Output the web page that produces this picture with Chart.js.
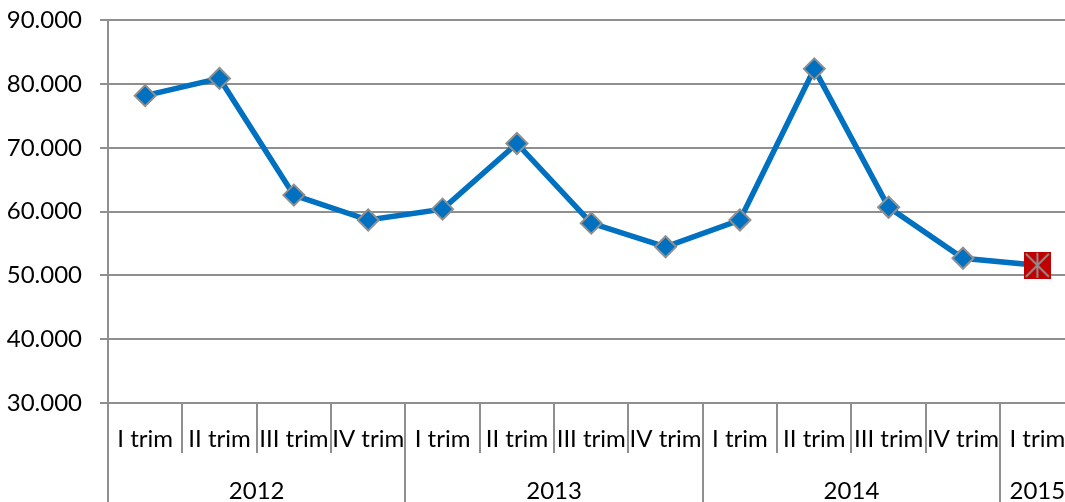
<!DOCTYPE html>
<html>
<head>
<meta charset="utf-8">
<script src="https://cdn.jsdelivr.net/npm/chart.js@4"></script>
<style>
  html, body { margin: 0; padding: 0; background: #fff; overflow: hidden; }
  #myChart { display: block; margin-top: -12px; }
</style>
</head>
<body>
<canvas id="myChart" width="1087" height="514"></canvas>
<script>
// dati
const quarters = ['I trim', 'II trim', 'III trim', 'IV trim',
                  'I trim', 'II trim', 'III trim', 'IV trim',
                  'I trim', 'II trim', 'III trim', 'IV trim',
                  'I trim'];
const years = ['2012', '2013', '2014', '2015'];
const yearSizes = [4, 4, 4, 1];
const values = [78200, 80900, 62600, 58700, 60400, 70700, 58200, 54500,
                58700, 82400, 60700, 52700, 51600];
const yTicks = [30000, 40000, 50000, 60000, 70000, 80000, 90000];

const blue = '#0070C0';
const grey = '#8f8f8f';
const font = { family: 'Lato', size: 24 };

// posizioni dei confini e dei centri degli anni (in indici di categoria)
const yearBounds = [-0.5];
const yearCenters = [];
let acc = -0.5;
yearSizes.forEach(n => {
  yearCenters.push(acc + n / 2);
  acc += n;
  yearBounds.push(acc);
});

// marcatore dell'ultimo punto: quadrato rosso con asterisco
const lastMark = document.createElement('canvas');
lastMark.width = 27; lastMark.height = 27;
(function () {
  const c = lastMark.getContext('2d');
  c.fillStyle = '#C00000';
  c.fillRect(0, 0, 27, 27);
  c.strokeStyle = grey;
  c.lineWidth = 2;
  c.beginPath();
  c.moveTo(13.5, 1); c.lineTo(13.5, 26);
  c.moveTo(2, 2); c.lineTo(25, 25);
  c.moveTo(25, 2); c.lineTo(2, 25);
  c.stroke();
})();

function fmt(v) {
  return String(v).replace(/\B(?=(\d{3})+(?!\d))/g, '.');
}

const last = values.length - 1;

new Chart(document.getElementById('myChart'), {
  type: 'line',
  data: {
    labels: quarters,
    datasets: [{
      data: values,
      borderColor: blue,
      borderWidth: 5.5,
      backgroundColor: blue,
      pointStyle: ctx => ctx.dataIndex === last ? lastMark : 'rectRot',
      pointRadius: 10.5,
      pointBorderColor: grey,
      pointBorderWidth: 2,
      tension: 0
    }]
  },
  options: {
    responsive: false,
    animation: false,
    layout: { padding: 0 },
    plugins: { legend: { display: false }, tooltip: { enabled: false } },
    scales: {
      y: {
        min: 30000,
        max: 90000,
        afterBuildTicks: s => { s.ticks = yTicks.map(v => ({ value: v })); },
        afterFit: s => { s.width = 108; },
        border: { display: true, color: grey, width: 2 },
        grid: { color: grey, lineWidth: 2, tickLength: 8 },
        ticks: { font: font, color: '#000', padding: 18, callback: v => fmt(v) }
      },
      x: {
        type: 'category',
        offset: true,
        afterFit: s => { s.height = 50; },
        border: { display: false },
        grid: { offset: true, drawOnChartArea: false, color: grey, lineWidth: 2, tickLength: 50 },
        ticks: { font: font, color: '#000', padding: -28, maxRotation: 0, autoSkip: false }
      },
      x2: {
        type: 'linear',
        position: 'bottom',
        min: -0.5,
        max: quarters.length - 0.5,
        afterBuildTicks: s => {
          s.ticks = yearBounds.concat(yearCenters).sort((a, b) => a - b).map(v => ({ value: v }));
        },
        afterFit: s => { s.height = 49; },
        border: { display: false },
        grid: {
          drawOnChartArea: false,
          lineWidth: 2,
          tickLength: 50,
          color: c => yearBounds.includes(c.tick.value) ? grey : 'rgba(0,0,0,0)'
        },
        ticks: {
          font: font,
          color: '#000',
          padding: -26,
          maxRotation: 0,
          autoSkip: false,
          callback: v => {
            const i = yearCenters.indexOf(v);
            return i >= 0 ? years[i] : '';
          }
        }
      }
    }
  }
});
</script>
</body>
</html>
